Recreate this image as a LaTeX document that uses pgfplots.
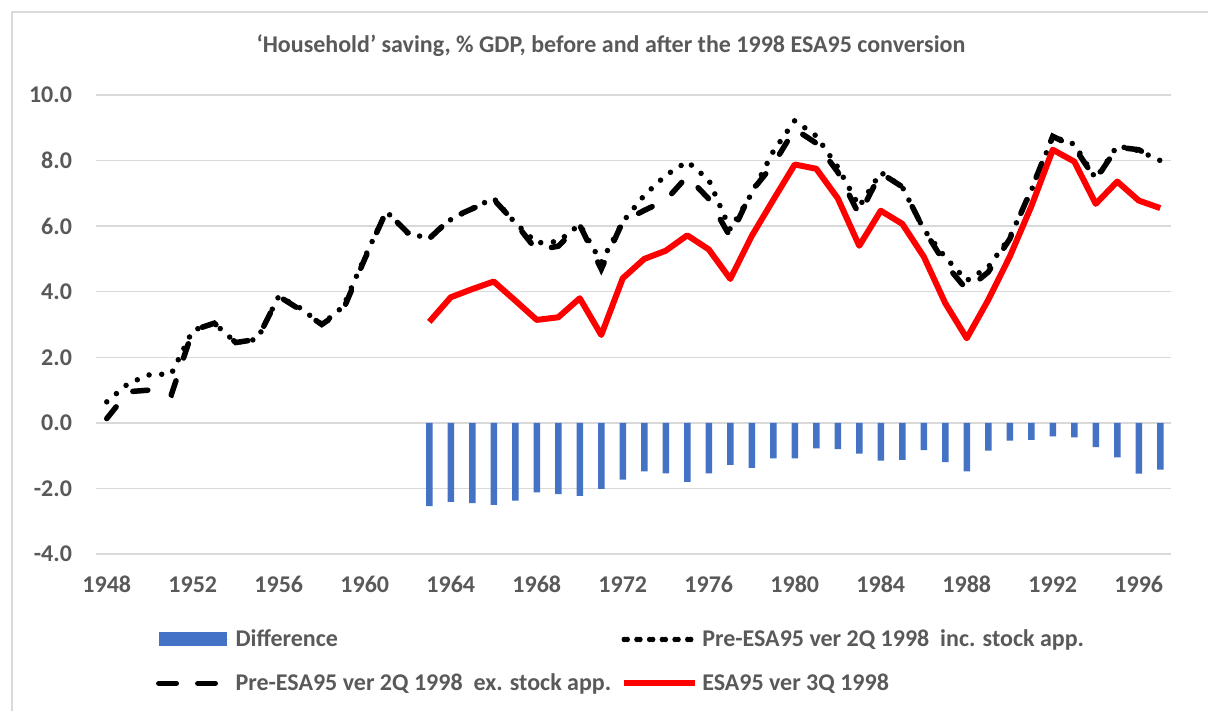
\documentclass[border=0pt]{standalone}
\usepackage{fontspec}
\setmainfont{Carlito}
\usepackage{pgfplots}
\usepackage{pgfplotstable}
\pgfplotsset{compat=1.18}
\definecolor{txt}{HTML}{595959}
\definecolor{gridc}{HTML}{D9D9D9}
\definecolor{barblue}{HTML}{4472C4}
\pgfplotsset{
  dotleg/.style={legend image code/.code={\path (0pt,0pt) -- (35pt,0pt);\draw[##1] (1.5pt,0pt) -- (33.5pt,0pt);}},
  dashleg/.style={legend image code/.code={\path (0pt,0pt) -- (35pt,0pt);\draw[##1] (1.25pt,0pt) -- (32pt,0pt);}},
  redleg/.style={legend image code/.code={\draw[##1] (0pt,0pt) -- (35.5pt,0pt);}},
  barleg/.style={legend image code/.code={\fill[barblue] (0pt,-3.5pt) rectangle (34pt,3.5pt);\path (0pt,0pt) -- (35pt,0pt);}},
}
\pgfplotstableread{
year ex inc esa diff
1948 0.13 0.64 nan nan
1949 0.95 1.20 nan nan
1950 1.00 1.47 nan nan
1951 0.85 1.49 nan nan
1952 2.82 2.82 nan nan
1953 3.04 3.04 nan nan
1954 2.45 2.45 nan nan
1955 2.55 2.55 nan nan
1956 3.86 3.86 nan nan
1957 3.45 3.50 nan nan
1958 3.00 3.00 nan nan
1959 3.45 3.55 nan nan
1960 5.00 5.05 nan nan
1961 6.45 6.45 nan nan
1962 5.80 5.78 nan nan
1963 5.62 5.63 3.08 -2.54
1964 6.24 6.20 3.83 -2.41
1965 6.53 6.54 4.08 -2.45
1966 6.81 6.85 4.31 -2.50
1967 6.10 6.10 3.73 -2.37
1968 5.26 5.49 3.14 -2.12
1969 5.39 5.53 3.22 -2.17
1970 6.03 6.05 3.80 -2.23
1971 4.69 4.90 2.68 -2.01
1972 6.14 6.13 4.41 -1.73
1973 6.48 6.94 5.00 -1.48
1974 6.79 7.55 5.25 -1.54
1975 7.52 7.97 5.72 -1.80
1976 6.83 7.41 5.29 -1.54
1977 5.67 5.90 4.39 -1.28
1978 7.07 7.00 5.70 -1.37
1979 7.88 8.28 6.80 -1.08
1980 8.96 9.22 7.88 -1.08
1981 8.53 8.75 7.75 -0.78
1982 7.65 7.80 6.85 -0.80
1983 6.34 6.60 5.40 -0.94
1984 7.62 7.64 6.47 -1.15
1985 7.20 7.20 6.07 -1.13
1986 5.90 5.90 5.07 -0.83
1987 4.85 5.05 3.65 -1.20
1988 4.06 4.34 2.58 -1.48
1989 4.60 4.75 3.75 -0.85
1990 5.61 5.66 5.07 -0.54
1991 7.12 7.08 6.60 -0.52
1992 8.74 8.73 8.33 -0.41
1993 8.41 8.50 7.97 -0.44
1994 7.42 7.45 6.68 -0.74
1995 8.41 8.45 7.36 -1.05
1996 8.33 8.30 6.78 -1.55
1997 7.98 8.00 6.55 -1.43
}\data
\newcommand{\lblfont}{\bfseries\fontsize{12}{14}\selectfont}
\begin{document}
\begin{tikzpicture}
\useasboundingbox (0pt,0pt) rectangle (604pt,355.5pt);
\draw[gridc, line width=0.75pt] (6pt,0pt) -- (6pt,349.5pt) -- (604pt,349.5pt);
\node[text=txt, font=\lblfont] at (305.5pt,332.5pt) {‘Household’ saving, \% GDP, before and after the 1998 ESA95 conversion};
\begin{axis}[
  at={(48pt,78.5pt)}, anchor=south west,
  scale only axis, width=537.5pt, height=229.5pt,
  xmin=1947.5, xmax=1997.5, ymin=-4, ymax=10,
  xtick={1948,1952,...,1996}, ytick={-4,-2,...,10},
  axis line style={draw=none}, major tick style={draw=none},
  ymajorgrids, grid style={gridc, line width=0.75pt},
  /pgf/number format/assume math mode=true,
  xticklabel style={anchor=base, yshift=-19.25pt, /pgf/number format/1000 sep={}},
  yticklabel style={xshift=-8.5pt, /pgf/number format/.cd, fixed, fixed zerofill, precision=1},
  ticklabel style={font=\lblfont, text=txt},
  legend columns=2, legend cell align=left,
  legend style={at={(0.0555,-0.155)}, anchor=north west, draw=none, fill=none,
    inner sep=0pt, font=\lblfont, text=txt, column sep=0pt, row sep=8pt,
    /tikz/every even column/.append style={column sep=3pt}},
]
\addplot[ybar, bar width=3.25pt, bar shift=0pt, fill=barblue, draw=none, barleg]
  table[x=year, y=diff] {\data};
\addlegendentry{Difference}
\addplot[black, line width=2.75pt, line cap=round, dash pattern=on 0pt off 6.35pt, dotleg]
  table[x=year, y=inc] {\data};
\addlegendentry{Pre-ESA95 ver 2Q 1998\ \ inc. stock app.}
\addplot[black, line width=2.75pt, line cap=round, dash pattern=on 7.5pt off 12pt, dashleg]
  table[x=year, y=ex] {\data};
\addlegendentry{Pre-ESA95 ver 2Q 1998\ \ ex. stock app.}
\addplot[red, line width=3pt, line join=round, redleg]
  table[x=year, y=esa] {\data};
\addlegendentry{ESA95 ver 3Q 1998}
\end{axis}
\end{tikzpicture}
\end{document}
